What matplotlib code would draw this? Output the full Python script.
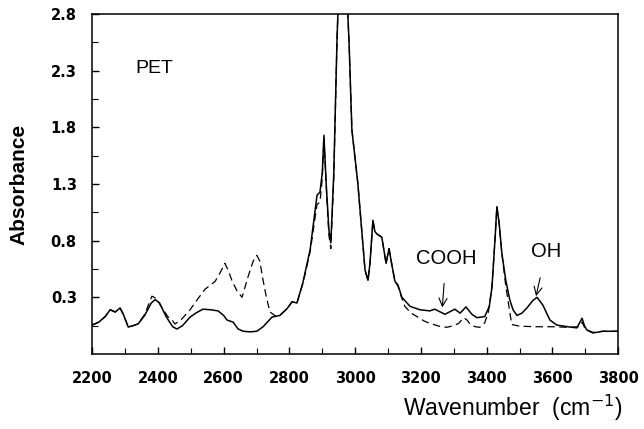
import matplotlib.pyplot as plt
from matplotlib.ticker import MultipleLocator, FormatStrFormatter

# solid curve
wn_solid = [2200, 2220, 2240, 2255, 2270, 2285, 2295, 2310, 2325, 2340, 2360, 2380, 2392,
            2405, 2425, 2445, 2458, 2475, 2498, 2515, 2537, 2560, 2583, 2600, 2610, 2629,
            2644, 2660, 2680, 2701, 2720, 2747, 2771, 2793, 2808, 2823, 2841, 2863, 2884,
            2893, 2900, 2905, 2912, 2920, 2926, 2935, 2945, 2950, 2960, 2975, 2982, 2990,
            3008, 3020, 3030, 3039, 3045, 3054, 3060, 3066, 3081, 3094, 3103, 3112, 3121,
            3130, 3142, 3167, 3197, 3227, 3242, 3273, 3303, 3319, 3337, 3355, 3370, 3394,
            3408, 3416, 3425, 3431, 3438, 3446, 3458, 3470, 3480, 3492, 3507, 3522, 3540,
            3553, 3571, 3592, 3613, 3647, 3674, 3690, 3697, 3705, 3723, 3753, 3775, 3800]
abs_solid = [0.055, 0.08, 0.13, 0.19, 0.17, 0.205, 0.15, 0.037, 0.05, 0.065, 0.14, 0.25, 0.28,
             0.25, 0.13, 0.04, 0.02, 0.05, 0.125, 0.16, 0.195, 0.19, 0.18, 0.14, 0.10, 0.08,
             0.02, 0.0, -0.005, 0.0, 0.04, 0.125, 0.14, 0.20, 0.26, 0.25, 0.43, 0.72, 1.20,
             1.23, 1.40, 1.73, 1.30, 0.90, 0.78, 1.40, 2.60, 3.0, 3.2, 3.0, 2.5, 1.78,
             1.31, 0.89, 0.54, 0.45, 0.60, 0.98, 0.88, 0.86, 0.83, 0.60, 0.73, 0.58, 0.44,
             0.41, 0.30, 0.22, 0.19, 0.18, 0.195, 0.15, 0.195, 0.16, 0.215, 0.15, 0.12, 0.13,
             0.22, 0.39, 0.80, 1.10, 0.95, 0.69, 0.45, 0.28, 0.19, 0.14, 0.16, 0.205, 0.27,
             0.30, 0.23, 0.10, 0.055, 0.04, 0.03, 0.115, 0.05, 0.01, -0.015, 0.0, 0.0, 0.0]

# dashed curve
wn_dash = [2200, 2220, 2240, 2255, 2270, 2285, 2295, 2310, 2325, 2340, 2360, 2382, 2395,
           2410, 2430, 2443, 2452, 2470, 2498, 2520, 2543, 2574, 2590, 2604, 2615, 2625,
           2640, 2656, 2674, 2690, 2701, 2710, 2720, 2730, 2741, 2760, 2771, 2793, 2808,
           2823, 2841, 2863, 2884, 2893, 2900, 2905, 2912, 2920, 2926, 2935, 2945, 2950,
           2960, 2975, 2982, 2990, 3008, 3020, 3030, 3039, 3045, 3054, 3060, 3066, 3081,
           3094, 3103, 3112, 3121, 3130, 3142, 3151, 3170, 3188, 3210, 3227, 3255, 3279,
           3300, 3315, 3330, 3340, 3350, 3365, 3379, 3394, 3405, 3416, 3425, 3431, 3438,
           3446, 3458, 3466, 3476, 3500, 3550, 3600, 3650, 3680, 3690, 3700, 3723, 3753, 3800]
abs_dash = [0.055, 0.08, 0.13, 0.19, 0.17, 0.205, 0.15, 0.037, 0.05, 0.065, 0.15, 0.31, 0.29,
            0.22, 0.13, 0.10, 0.065, 0.10, 0.19, 0.28, 0.37, 0.44, 0.52, 0.60, 0.53, 0.45,
            0.36, 0.30, 0.48, 0.62, 0.67, 0.62, 0.45, 0.30, 0.17, 0.13, 0.14, 0.20, 0.26,
            0.25, 0.42, 0.70, 1.12, 1.14, 1.35, 1.70, 1.28, 0.85, 0.73, 1.35, 2.60, 3.0,
            3.2, 3.0, 2.5, 1.78, 1.31, 0.89, 0.54, 0.45, 0.60, 0.98, 0.88, 0.86, 0.83,
            0.60, 0.73, 0.58, 0.44, 0.40, 0.29, 0.22, 0.16, 0.13, 0.09, 0.07, 0.045, 0.035,
            0.05, 0.07, 0.12, 0.10, 0.06, 0.04, 0.035, 0.075, 0.17, 0.39, 0.80, 1.10, 0.95,
            0.69, 0.40, 0.25, 0.06, 0.045, 0.04, 0.04, 0.035, 0.04, 0.08, 0.02, -0.01, 0.0, 0.0]

plt.rcParams['font.family'] = ['Liberation Sans', 'DejaVu Sans']

fig = plt.figure(figsize=(6.44, 4.29), dpi=100)
ax = fig.add_axes([0.143, 0.175, 0.817, 0.792])

ax.plot(wn_dash, abs_dash, c='black', linewidth=0.9, dashes=(6, 3.5))
ax.plot(wn_solid, abs_solid, c='black', linewidth=1.1)

ax.set_xlim(2200, 3800)
ax.set_ylim(-0.2, 2.8)
ax.xaxis.set_major_locator(MultipleLocator(200))
ax.xaxis.set_minor_locator(MultipleLocator(100))
ax.set_yticks([0.3, 0.8, 1.3, 1.8, 2.3, 2.8])
ax.set_yticks([0.05, 0.55, 1.05, 1.55, 2.05, 2.55], minor=True)
ax.yaxis.set_major_formatter(FormatStrFormatter('%.1f'))
ax.tick_params(which='both', direction='in', top=False, right=False)
ax.tick_params(which='major', length=5, width=1)
ax.tick_params(axis='x', which='major', pad=12)
ax.tick_params(axis='y', which='major', pad=11)
ax.tick_params(which='minor', length=4, width=0.8)
for lab in ax.get_xticklabels() + ax.get_yticklabels():
    lab.set_fontweight('bold')
    lab.set_family('DejaVu Sans')
    lab.set_fontsize(10.5)
for s in ax.spines.values():
    s.set_linewidth(1.1)

fig.text(0.03, 0.571, 'Absorbance', fontsize=15, fontweight='bold', rotation=90,
         ha='center', va='center')
fig.text(0.966, 0.03, 'Wavenumber  (cm$^{-1}$)', fontsize=16.5, ha='right', va='baseline')

ax.text(2390, 2.32, 'PET', fontsize=14, ha='center', va='center')
ax.annotate('COOH', xy=(3265, 0.21), xytext=(3276, 0.64), fontsize=14.5,
            ha='center', va='center',
            arrowprops=dict(arrowstyle='->', lw=0.8, color='black', shrinkA=9, shrinkB=0))
ax.annotate('OH', xy=(3550, 0.31), xytext=(3580, 0.70), fontsize=14.5,
            ha='center', va='center',
            arrowprops=dict(arrowstyle='->', lw=0.8, color='black', shrinkA=10, shrinkB=0))

plt.savefig('out.png', dpi=100)
